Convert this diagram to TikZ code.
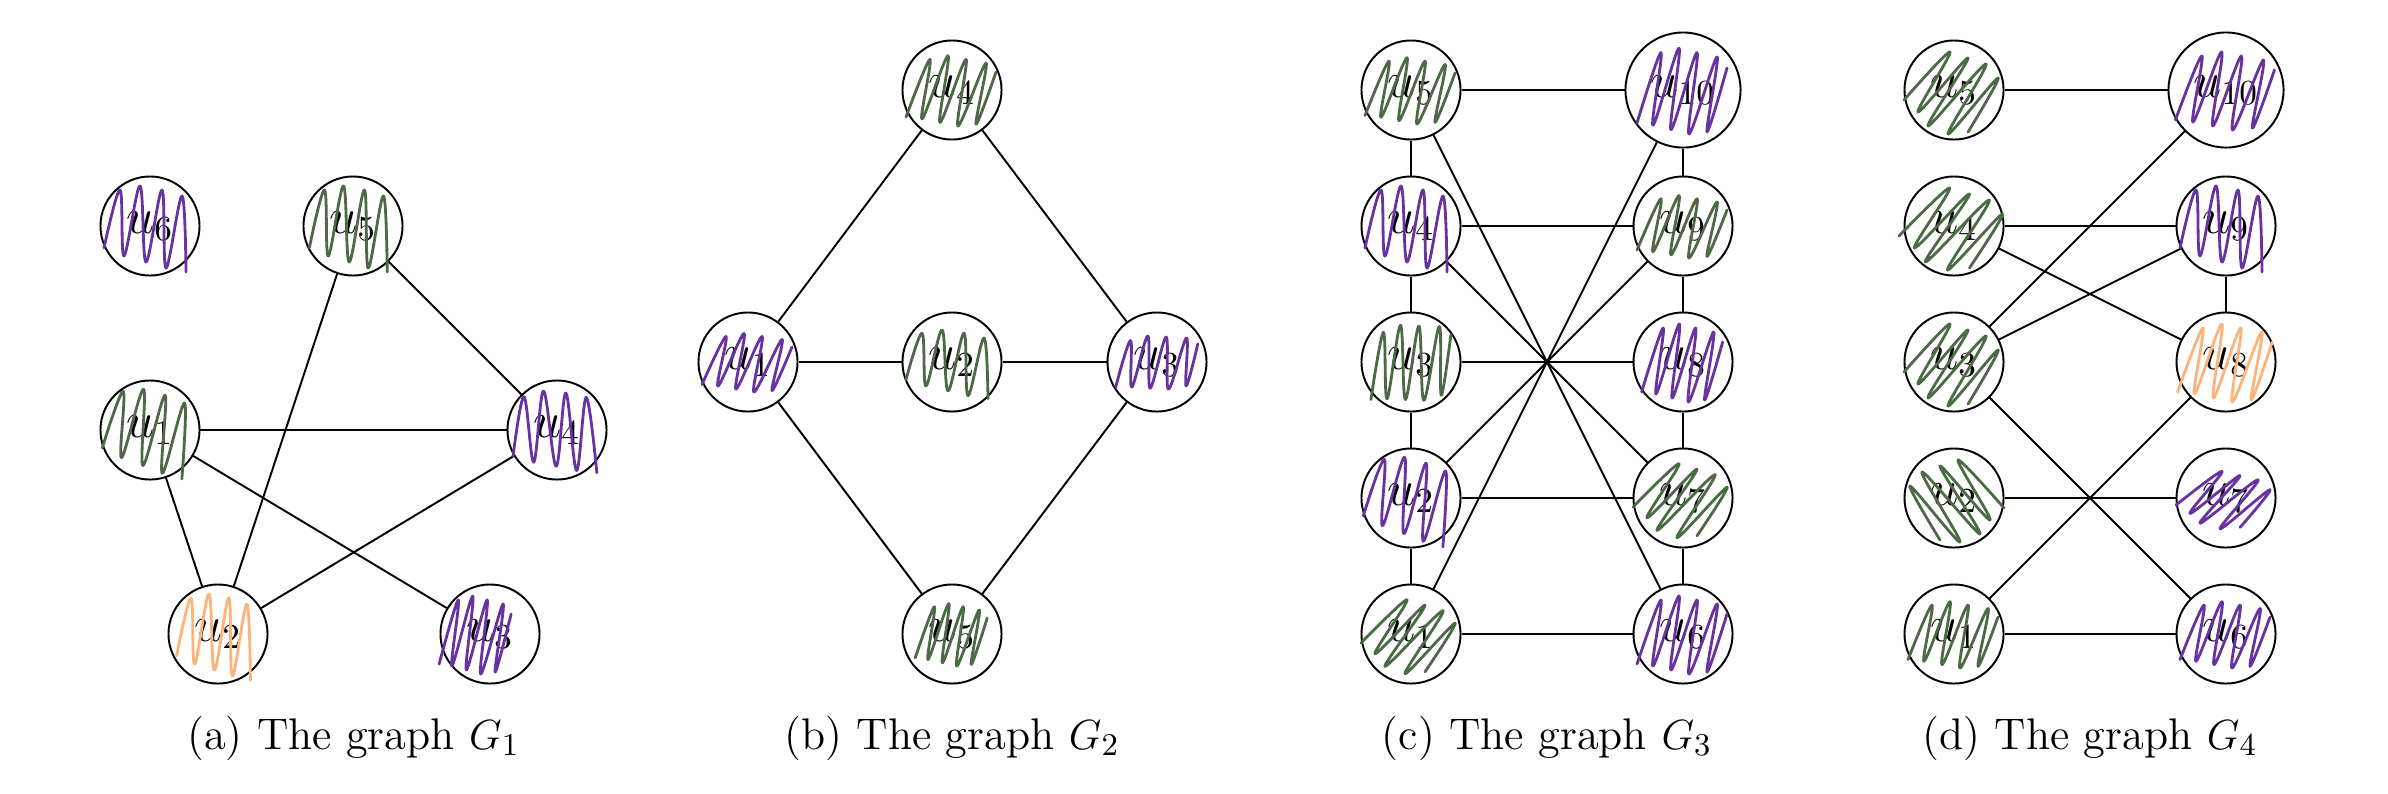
\documentclass[tikz,border=0pt]{standalone}
\definecolor{scgreen}{RGB}{76,106,70}
\definecolor{scpurple}{RGB}{104,50,160}
\definecolor{scorange}{RGB}{252,180,122}
\tikzset{
  vtx/.style={draw, circle, minimum size=0.99cm, inner sep=0pt, font=\Large, line width=0.55pt},
  bigvtx/.style={vtx, minimum size=1.15cm},
  edge/.style={line width=0.55pt},
  scrib/.style={line width=0.8pt, line cap=round, line join=round},
  captext/.style={font=\fontsize{12.6}{15}\selectfont, anchor=base},
  scrA/.pic={\draw[scrib] plot[smooth, tension=0.6] coordinates {(-46,22) (-30,-36) (-26,30) (-10,-40) (-4,36) (12,-36) (16,42) (32,-30) (36,46)};},
  scrB/.pic={\draw[scrib] plot[smooth, tension=0.6] coordinates {(-46,30) (-22,-34) (-30,32) (-4,-38) (-12,36) (14,-34) (6,40) (34,-30) (24,38) (44,-20)};},
  scrC/.pic={\draw[scrib] plot[smooth, tension=0.6] coordinates {(-50,10) (-4,-38) (-36,22) (14,-32) (-26,36) (32,-26) (-6,44) (44,-12) (14,42)};},
}
\begin{document}
\begin{tikzpicture}[x=0.01cm, y=-0.01cm]
\useasboundingbox (0,0) rectangle (2388,793);
% ---------------- (a)
\node[vtx] (a6) at (150,226) {$u_6$};
\node[vtx] (a5) at (353,226) {$u_5$};
\node[vtx] (a1) at (150,430) {$u_1$};
\node[vtx] (a4) at (557,430) {$u_4$};
\node[vtx] (a2) at (218,634) {$u_2$};
\node[vtx] (a3) at (490,634) {$u_3$};
\draw[edge] (a5) -- (a4);
\draw[edge] (a5) -- (a2);
\draw[edge] (a1) -- (a4);
\draw[edge] (a1) -- (a2);
\draw[edge] (a1) -- (a3);
\draw[edge] (a2) -- (a4);
\pic[scpurple] at (a6) {scrA};
\pic[scgreen, xscale=0.95] at (a5) {scrA};
\pic[scgreen, rotate=-5] at (a1) {scrA};
\pic[scpurple, rotate=5] at (a4) {scrA};
\pic[scorange, xscale=0.9] at (a2) {scrA};
\pic[scpurple, xscale=0.8, xshift=-5] at (a3) {scrB};
\node[captext] (capa) at (353.5,749) {(a) The graph $G_1$};
% ---------------- (b)
\node[vtx] (b4) at (952,90) {$u_4$};
\node[vtx] (b1) at (748,362) {$u_1$};
\node[vtx] (b2) at (952,362) {$u_2$};
\node[vtx] (b3) at (1157,362) {$u_3$};
\node[vtx] (b5) at (952,634) {$u_5$};
\draw[edge] (b1) -- (b4);
\draw[edge] (b4) -- (b3);
\draw[edge] (b1) -- (b2);
\draw[edge] (b2) -- (b3);
\draw[edge] (b1) -- (b5);
\draw[edge] (b5) -- (b3);
\pic[scgreen, yscale=0.9] at (b4) {scrB};
\pic[scpurple, yscale=0.75] at (b1) {scrB};
\pic[scgreen, yscale=0.8] at (b2) {scrA};
\pic[scpurple, yscale=0.7, rotate=8] at (b3) {scrB};
\pic[scgreen, yscale=0.8, xscale=0.8] at (b5) {scrB};
\node[captext] (capb) at (952,749) {(b) The graph $G_2$};
% ---------------- (c)
\node[vtx] (c5) at (1411,90) {$u_5$};
\node[vtx] (c4) at (1411,226) {$u_4$};
\node[vtx] (c3) at (1411,362) {$u_3$};
\node[vtx] (c2) at (1411,498) {$u_2$};
\node[vtx] (c1) at (1411,634) {$u_1$};
\node[bigvtx] (c10) at (1683,90) {$u_{10}$};
\node[vtx] (c9) at (1683,226) {$u_9$};
\node[vtx] (c8) at (1683,362) {$u_8$};
\node[vtx] (c7) at (1683,498) {$u_7$};
\node[vtx] (c6) at (1683,634) {$u_6$};
\draw[edge] (c5) -- (c4);
\draw[edge] (c4) -- (c3);
\draw[edge] (c3) -- (c2);
\draw[edge] (c2) -- (c1);
\draw[edge] (c10) -- (c9);
\draw[edge] (c9) -- (c8);
\draw[edge] (c8) -- (c7);
\draw[edge] (c7) -- (c6);
\draw[edge] (c5) -- (c10);
\draw[edge] (c4) -- (c9);
\draw[edge] (c3) -- (c8);
\draw[edge] (c2) -- (c7);
\draw[edge] (c1) -- (c6);
\draw[edge] (c5) -- (c6);
\draw[edge] (c4) -- (c7);
\draw[edge] (c2) -- (c9);
\draw[edge] (c1) -- (c10);
\pic[scgreen, yscale=0.85] at (c5) {scrB};
\pic[scpurple] at (c4) {scrA};
\pic[scgreen, rotate=10] at (c3) {scrB};
\pic[scpurple, rotate=-5] at (c2) {scrA};
\pic[scgreen, yscale=0.9] at (c1) {scrC};
\pic[scpurple, yscale=1.1] at (c10) {scrB};
\pic[scgreen, yscale=0.8] at (c9) {scrB};
\pic[scpurple, xscale=0.9] at (c8) {scrB};
\pic[scgreen, yscale=0.9] at (c7) {scrC};
\pic[scpurple] at (c6) {scrB};
\node[captext] (capc) at (1547,749) {(c) The graph $G_3$};
% ---------------- (d)
\node[vtx] (d5) at (1954,90) {$u_5$};
\node[vtx] (d4) at (1954,226) {$u_4$};
\node[vtx] (d3) at (1954,362) {$u_3$};
\node[vtx] (d2) at (1954,498) {$u_2$};
\node[vtx] (d1) at (1954,634) {$u_1$};
\node[bigvtx] (d10) at (2226,90) {$u_{10}$};
\node[vtx] (d9) at (2226,226) {$u_9$};
\node[vtx] (d8) at (2226,362) {$u_8$};
\node[vtx] (d7) at (2226,498) {$u_7$};
\node[vtx] (d6) at (2226,634) {$u_6$};
\draw[edge] (d5) -- (d10);
\draw[edge] (d4) -- (d9);
\draw[edge] (d4) -- (d8);
\draw[edge] (d3) -- (d10);
\draw[edge] (d3) -- (d9);
\draw[edge] (d3) -- (d6);
\draw[edge] (d2) -- (d7);
\draw[edge] (d1) -- (d8);
\draw[edge] (d1) -- (d6);
\draw[edge] (d9) -- (d8);
\pic[scgreen] at (d5) {scrC};
\pic[scgreen, xscale=1.1] at (d4) {scrC};
\pic[scgreen] at (d3) {scrC};
\pic[scgreen, xscale=-1] at (d2) {scrC};
\pic[scgreen, yscale=0.85] at (d1) {scrB};
\pic[scpurple, xscale=1.1] at (d10) {scrB};
\pic[scpurple] at (d9) {scrA};
\pic[scorange, xscale=1.05] at (d8) {scrB};
\pic[scpurple, yscale=0.7] at (d7) {scrC};
\pic[scpurple, yscale=0.85] at (d6) {scrB};
\node[captext] (capd) at (2090,749) {(d) The graph $G_4$};
\end{tikzpicture}
\end{document}
